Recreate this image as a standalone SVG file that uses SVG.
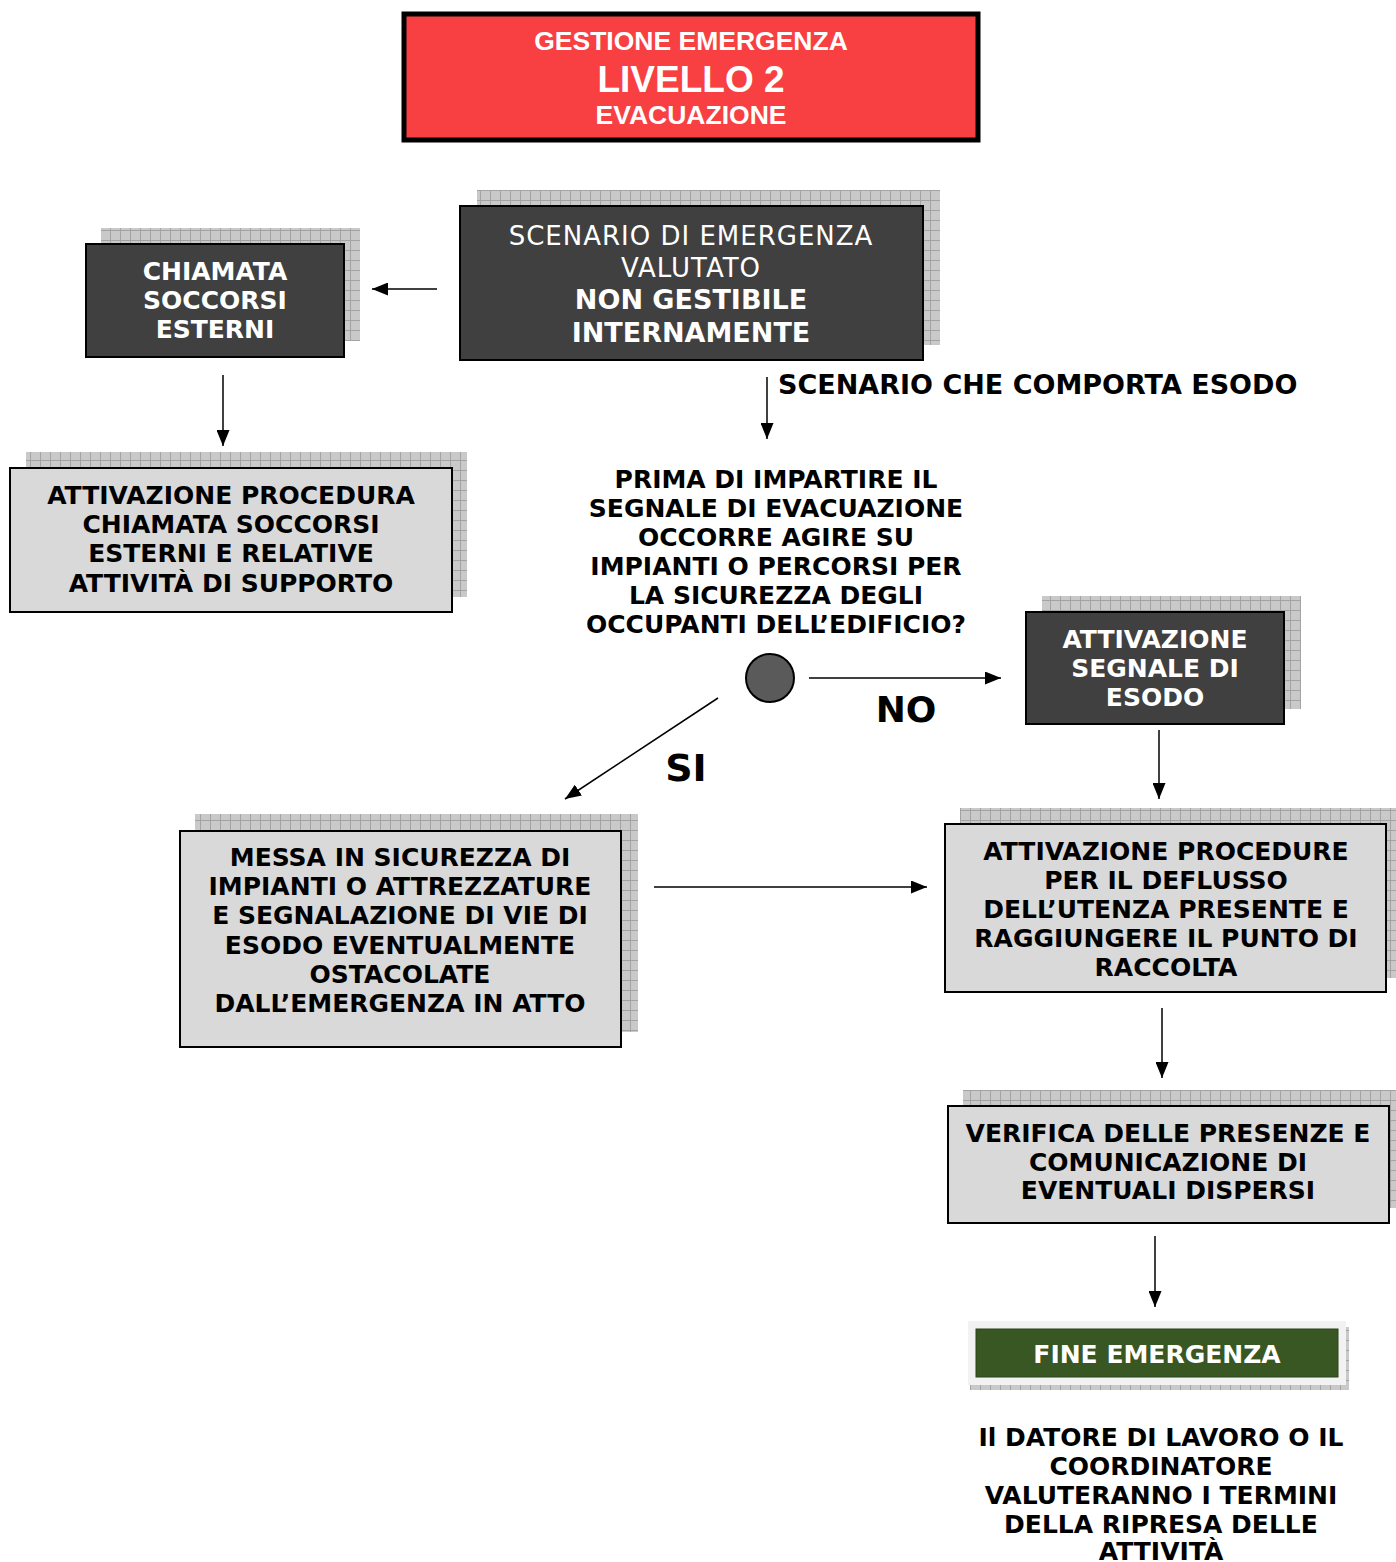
<svg xmlns="http://www.w3.org/2000/svg" width="1396" height="1562" viewBox="0 0 1396 1562">
<defs>
<pattern id="grid" width="10" height="10" patternUnits="userSpaceOnUse">
<rect width="10" height="10" fill="#c9c9c9"/>
<path d="M0 0.5H10M0.5 0V10" stroke="#a3a3a3" stroke-width="1" fill="none"/>
</pattern>
<marker id="ah" viewBox="0 0 16 13" refX="16" refY="6.5" markerWidth="16" markerHeight="13" markerUnits="userSpaceOnUse" orient="auto">
<path d="M0 0L16 6.5L0 13Z" fill="#000"/>
</marker>
</defs>
<style>
.sh{fill:url(#grid)}
.dark{fill:#404040;stroke:#000;stroke-width:2}
.light{fill:#d9d9d9;stroke:#000;stroke-width:2}
.tw{font-family:"DejaVu Sans",Verdana,sans-serif;font-weight:bold;font-size:25px;fill:#fff;text-anchor:middle}
.tb{font-family:"DejaVu Sans",Verdana,sans-serif;font-weight:bold;font-size:25px;fill:#000;text-anchor:middle}
.tr{font-family:"DejaVu Sans",Verdana,sans-serif;font-size:26px;letter-spacing:1px;fill:#fff;text-anchor:middle}
.ttl{font-family:"Liberation Sans",Arial,sans-serif;font-weight:bold;fill:#fff;text-anchor:middle}
.cn{stroke:#000;stroke-width:1.5;fill:none;marker-end:url(#ah)}
</style>
<rect width="1396" height="1562" fill="#fff"/>

<g id="title">
<rect x="404" y="14" width="574" height="126" fill="#f84042" stroke="#000" stroke-width="5"/>
<text class="ttl" x="691" y="50" style="font-size:26.5px">GESTIONE EMERGENZA</text>
<text class="ttl" x="691" y="92" style="font-size:37px">LIVELLO 2</text>
<text class="ttl" x="691" y="124" style="font-size:26.5px">EVACUAZIONE</text>
</g>

<g id="scenario">
<rect class="sh" x="477" y="190" width="463" height="155"/>
<rect class="dark" x="460" y="206" width="463" height="154"/>
<text class="tr" x="691" y="245">SCENARIO DI EMERGENZA</text>
<text class="tr" x="691" y="277">VALUTATO</text>
<text class="tw" x="691" y="309" style="font-size:27px">NON GESTIBILE</text>
<text class="tw" x="691" y="342" style="font-size:27px">INTERNAMENTE</text>
</g>

<g id="chiamata">
<rect class="sh" x="101" y="228" width="259" height="113"/>
<rect class="dark" x="86" y="244" width="258" height="113"/>
<text class="tw" x="215" y="280">CHIAMATA</text>
<text class="tw" x="215" y="309">SOCCORSI</text>
<text class="tw" x="215" y="338">ESTERNI</text>
</g>

<g id="procedura-soccorsi">
<rect class="sh" x="26" y="452" width="441" height="145"/>
<rect class="light" x="10" y="468" width="442" height="144"/>
<text class="tb" x="231" y="504">ATTIVAZIONE PROCEDURA</text>
<text class="tb" x="231" y="533">CHIAMATA SOCCORSI</text>
<text class="tb" x="231" y="562">ESTERNI E RELATIVE</text>
<text class="tb" x="231" y="592">ATTIVITÀ DI SUPPORTO</text>
</g>

<g id="label-esodo">
<text class="tb" x="778" y="394" style="font-size:27px;text-anchor:start">SCENARIO CHE COMPORTA ESODO</text>
</g>

<g id="domanda">
<text class="tb" x="776" y="488">PRIMA DI IMPARTIRE IL</text>
<text class="tb" x="776" y="517">SEGNALE DI EVACUAZIONE</text>
<text class="tb" x="776" y="546">OCCORRE AGIRE SU</text>
<text class="tb" x="776" y="575">IMPIANTI O PERCORSI PER</text>
<text class="tb" x="776" y="604">LA SICUREZZA DEGLI</text>
<text class="tb" x="776" y="633">OCCUPANTI DELL’EDIFICIO?</text>
</g>

<g id="decisione">
<circle cx="770" cy="678" r="24" fill="#5a5a5a" stroke="#000" stroke-width="2"/>
</g>

<g id="segnale-esodo">
<rect class="sh" x="1042" y="596" width="259" height="113"/>
<rect class="dark" x="1026" y="612" width="258" height="112"/>
<text class="tw" x="1155" y="648">ATTIVAZIONE</text>
<text class="tw" x="1155" y="677">SEGNALE DI</text>
<text class="tw" x="1155" y="706">ESODO</text>
</g>

<g id="messa-sicurezza">
<rect class="sh" x="195" y="814" width="443" height="218"/>
<rect class="light" x="180" y="831" width="441" height="216"/>
<text class="tb" x="400" y="866">MESSA IN SICUREZZA DI</text>
<text class="tb" x="400" y="895">IMPIANTI O ATTREZZATURE</text>
<text class="tb" x="400" y="924">E SEGNALAZIONE DI VIE DI</text>
<text class="tb" x="400" y="954">ESODO EVENTUALMENTE</text>
<text class="tb" x="400" y="983">OSTACOLATE</text>
<text class="tb" x="400" y="1012">DALL’EMERGENZA IN ATTO</text>
</g>

<g id="deflusso">
<rect class="sh" x="960" y="808" width="436" height="170"/>
<rect class="light" x="945" y="824" width="441" height="168"/>
<text class="tb" x="1166" y="860">ATTIVAZIONE PROCEDURE</text>
<text class="tb" x="1166" y="889">PER IL DEFLUSSO</text>
<text class="tb" x="1166" y="918">DELL’UTENZA PRESENTE E</text>
<text class="tb" x="1166" y="947">RAGGIUNGERE IL PUNTO DI</text>
<text class="tb" x="1166" y="976">RACCOLTA</text>
</g>

<g id="verifica">
<rect class="sh" x="963" y="1090" width="433" height="118"/>
<rect class="light" x="948" y="1106" width="441" height="117"/>
<text class="tb" x="1168" y="1142">VERIFICA DELLE PRESENZE E</text>
<text class="tb" x="1168" y="1171">COMUNICAZIONE DI</text>
<text class="tb" x="1168" y="1199">EVENTUALI DISPERSI</text>
</g>

<g id="fine">
<rect class="sh" x="970" y="1327" width="379" height="63"/>
<rect x="968" y="1321" width="378" height="64" fill="#f2f2f2"/>
<rect x="976" y="1329" width="362" height="48" fill="#385723" stroke="#2a4219" stroke-width="1"/>
<text class="tw" x="1157" y="1363">FINE EMERGENZA</text>
</g>

<g id="nota-finale">
<text class="tb" x="1161" y="1446">Il DATORE DI LAVORO O IL</text>
<text class="tb" x="1161" y="1475">COORDINATORE</text>
<text class="tb" x="1161" y="1504">VALUTERANNO I TERMINI</text>
<text class="tb" x="1161" y="1533">DELLA RIPRESA DELLE</text>
<text class="tb" x="1161" y="1560">ATTIVITÀ</text>
</g>

<g id="connectors">
<line class="cn" x1="437" y1="289" x2="372" y2="289"/>
<line class="cn" x1="223" y1="375" x2="223" y2="446"/>
<line class="cn" x1="767" y1="377" x2="767" y2="439"/>
<line class="cn" x1="809" y1="678" x2="1001" y2="678"/>
<line class="cn" x1="718" y1="698" x2="565" y2="799"/>
<line class="cn" x1="1159" y1="730" x2="1159" y2="799"/>
<line class="cn" x1="654" y1="887" x2="927" y2="887"/>
<line class="cn" x1="1162" y1="1008" x2="1162" y2="1078"/>
<line class="cn" x1="1155" y1="1236" x2="1155" y2="1307"/>
<text class="tb" x="906" y="722" style="font-size:36px">NO</text>
<text class="tb" x="686" y="781" style="font-size:38px">SI</text>
</g>
</svg>
